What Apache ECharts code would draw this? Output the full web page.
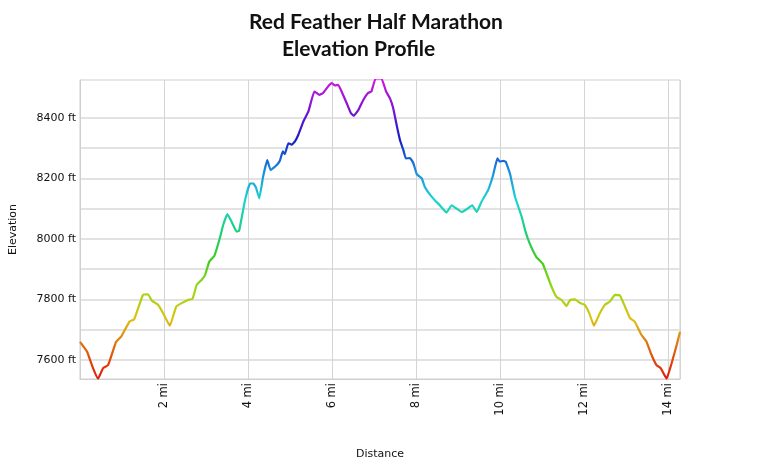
<!DOCTYPE html>
<html>
	<head>
		<meta charset="utf-8" />
		<title>Red Feather Half Marathon</title>
		<script type="text/javascript" src="https://cdn.jsdelivr.net/npm/echarts@6/dist/echarts.min.js"></script>
		<style>
			html, body { margin: 0; padding: 0; background: #fff; }
		</style>
	</head>
	<body>
		<div id="chart" style="width: 760px;height:460px;"></div>
	</body>
</html>
<script type="text/javascript">
	// distance along the course (mi) and elevation (ft)
	var distance = [0, 0.11, 0.17, 0.31, 0.43, 0.55, 0.67, 0.86, 0.98, 1.18, 1.29, 1.50, 1.62, 1.71, 1.86, 1.98,
		2.14, 2.29, 2.41, 2.57, 2.68, 2.78, 2.90, 2.98, 3.08, 3.20, 3.33, 3.41, 3.51, 3.60, 3.73, 3.79, 3.93,
		4.05, 4.13, 4.19, 4.27, 4.36, 4.46, 4.54, 4.68, 4.76, 4.83, 4.88, 4.96, 5.04, 5.12, 5.20, 5.32, 5.44,
		5.58, 5.70, 5.79, 5.91, 5.99, 6.07, 6.15, 6.23, 6.35, 6.45, 6.52, 6.63, 6.75, 6.86, 6.94, 7.04, 7.18,
		7.29, 7.38, 7.46, 7.54, 7.62, 7.70, 7.76, 7.86, 7.94, 8.02, 8.14, 8.21, 8.33, 8.45, 8.57, 8.73, 8.85,
		8.97, 9.09, 9.21, 9.34, 9.45, 9.56, 9.72, 9.84, 9.94, 10.00, 10.08, 10.14, 10.24, 10.36, 10.52, 10.60,
		10.71, 10.87, 11.02, 11.11, 11.23, 11.35, 11.47, 11.59, 11.67, 11.79, 11.90, 12.02, 12.13, 12.24, 12.38,
		12.50, 12.62, 12.74, 12.86, 12.98, 13.10, 13.21, 13.37, 13.49, 13.61, 13.73, 13.83, 13.97, 14.09, 14.21, 14.29];
	var elevation = [7660, 7639, 7627, 7573, 7538, 7573, 7583, 7660, 7677, 7727, 7734, 7815, 7817, 7796, 7782, 7754,
		7713, 7776, 7787, 7798, 7802, 7848, 7865, 7881, 7925, 7944, 8002, 8046, 8082, 8060, 8024, 8027, 8128,
		8183, 8183, 8170, 8134, 8205, 8260, 8227, 8243, 8258, 8289, 8280, 8316, 8311, 8322, 8344, 8388, 8421,
		8487, 8476, 8482, 8504, 8515, 8507, 8509, 8487, 8449, 8416, 8407, 8426, 8460, 8482, 8487, 8530, 8530,
		8487, 8465, 8432, 8377, 8327, 8294, 8266, 8267, 8250, 8214, 8200, 8172, 8147, 8128, 8111, 8087, 8111,
		8100, 8089, 8098, 8111, 8089, 8122, 8161, 8211, 8266, 8255, 8258, 8255, 8216, 8139, 8073, 8029,
		7985, 7940, 7918, 7886, 7842, 7808, 7798, 7778, 7798, 7800, 7789, 7782, 7754, 7713, 7754,
		7782, 7793, 7815, 7813, 7776, 7738, 7727, 7683, 7661, 7617, 7583, 7573, 7538, 7589, 7649, 7693];

	var axisFont = "DejaVu Sans";
	var gridGrey = "#e2e2e2";
	var chart = echarts.init(document.getElementById("chart"));
	chart.setOption({
		backgroundColor: "#fff",
		animation: false,
		title: [{
			text: "Red Feather Half Marathon",
			left: 244,
			top: 7,
			textStyle: { fontFamily: "Lato", fontWeight: "bold", fontSize: 21, color: "#111" }
		}, {
			text: "Elevation Profile",
			left: 277,
			top: 34,
			textStyle: { fontFamily: "Lato", fontWeight: "bold", fontSize: 21, color: "#111" }
		}],
		grid: {
			left: 80,
			right: 80,
			top: 80,
			bottom: 81,
			outerBoundsMode: "none",
			containLabel: false,
			show: true,
			borderColor: "#cfcfcf",
			borderWidth: 1
		},
		visualMap: {
			type: "continuous",
			show: false,
			dimension: 1,
			min: 7537,
			max: 8525,
			inRange: {
				color: ["#e01a0a", "#e0640e", "#dcc214", "#9ad814", "#3ccc1c", "#1cd080",
					"#1cd4d4", "#1a88dc", "#1420c4", "#7a12d8", "#d018e0"]
			}
		},
		xAxis: {
			type: "value",
			min: 0,
			max: 14.29,
			splitNumber: 7,
			name: "Distance",
			nameLocation: "middle",
			nameGap: 70,
			nameTextStyle: { fontFamily: axisFont, fontSize: 11, color: "#111" },
			axisLine: { show: true, lineStyle: { color: "#cfcfcf" } },
			axisTick: { show: false },
			axisLabel: {
				rotate: 90,
				margin: 4,
				fontFamily: axisFont,
				fontSize: 11.5,
				color: "#111",
				formatter: function (v) {
					return (v > 0 && v % 2 === 0) ? v + " mi" : "";
				}
			},
			splitLine: { show: true, lineStyle: { color: "#d4d4d4", width: 1 } }
		},
		yAxis: {
			type: "value",
			min: 7537,
			max: 8525,
			splitNumber: 10,
			name: "Elevation",
			nameLocation: "middle",
			nameGap: 61,
			nameTextStyle: { fontFamily: axisFont, fontSize: 11, color: "#111" },
			axisLine: { show: true, lineStyle: { color: "#cfcfcf" } },
			axisTick: { show: false },
			axisLabel: {
				margin: 4,
				fontFamily: axisFont,
				fontSize: 11,
				color: "#111",
				formatter: function (v) {
					return (v % 200 === 0) ? v + " ft" : "";
				}
			},
			splitLine: {
				show: true,
				showMinLine: false,
				showMaxLine: false,
				// no line at 8500 in the original
				lineStyle: {
					color: [gridGrey, gridGrey, gridGrey, gridGrey, gridGrey, gridGrey,
						gridGrey, gridGrey, gridGrey, "rgba(0,0,0,0)", "rgba(0,0,0,0)", "rgba(0,0,0,0)"],
					width: 2
				}
			}
		},
		series: [{
			type: "line",
			showSymbol: false,
			smooth: 0.1,
			clip: true,
			lineStyle: { width: 2.2 },
			data: distance.map(function (d, i) { return [d, elevation[i]]; })
		}]
	});
</script>
